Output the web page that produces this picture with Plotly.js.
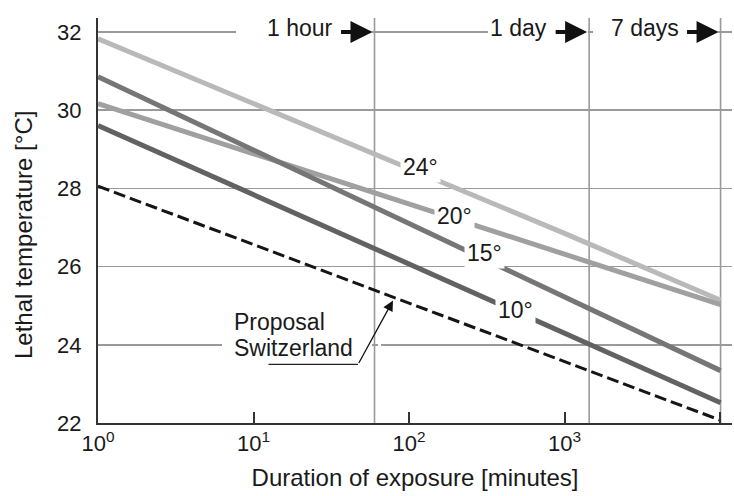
<!DOCTYPE html>
<html>
<head>
<meta charset="utf-8">
<script src="https://cdn.plot.ly/plotly-3.0.1.min.js"></script>
<style>html,body{margin:0;padding:0;background:#fff;}#chart{width:734px;height:496px;}</style>
</head>
<body>
<div id="chart"></div>
<script>
// ---- data ----
const durations = [1, 10, 100, 1000, 10080];           // minutes
const lethal24 = [31.83, 30.17, 28.51, 26.85, 25.14];  // acclimation 24°
const lethal20 = [30.17, 28.89, 27.60, 26.32, 25.03];  // acclimation 20°
const lethal15 = [30.86, 28.99, 27.11, 25.23, 23.34];  // acclimation 15°
const lethal10 = [29.61, 27.84, 26.08, 24.31, 22.52];  // acclimation 10°
const proposalCH = [28.06, 26.56, 25.07, 23.57, 22.07]; // Proposal Switzerland
const markerTimes = [60, 1440, 10080];
const markerLabels = ['1 hour', '1 day', '7 days'];
const xTickVals = [1, 10, 100, 1000, 10000];
const xTickText = ['10<sup>0</sup>', '10<sup>1</sup>', '10<sup>2</sup>', '10<sup>3</sup>', '10<sup>4</sup>'];
const yTickVals = [22, 24, 26, 28, 30, 32];
const seriesLabels = ['24°', '20°', '15°', '10°'];

// ---- layout geometry helpers ----
const W = 734, H = 496, ML = 98, MR = 2, MT = 18, MB = 73;
const XR = [0, 4.077], YR = [22, 32.36];
const PW = W - ML - MR, PH = H - MT - MB;
const pxToLog = px => XR[0] + (px - ML) / PW * (XR[1] - XR[0]);
const pxToPaper = px => (px - ML) / PW;
const pyToY = py => YR[1] - (py - MT) / PH * (YR[1] - YR[0]);

const FONT = '"Liberation Sans", Arial, Helvetica, sans-serif';
const gridC = '#9a9a9a';

const traces = [];
// vertical reference lines (1 hour, 1 day, 7 days)
markerTimes.forEach(t => traces.push({
  x: [t, t], y: [YR[0], YR[1]], mode: 'lines', hoverinfo: 'skip',
  line: {color: gridC, width: 1.6}, showlegend: false
}));
const series = [
  {y: lethal24, c: '#b9b9b9'},
  {y: lethal20, c: '#a0a0a0'},
  {y: lethal15, c: '#767676'},
  {y: lethal10, c: '#626262'}
];
series.forEach(s => traces.push({
  x: durations, y: s.y, mode: 'lines', line: {color: s.c, width: 5}, showlegend: false
}));
traces.push({
  x: durations, y: proposalCH, mode: 'lines',
  line: {color: '#151515', width: 3, dash: '12px,5px'}, showlegend: false
});

const annFont = {family: FONT, size: 23, color: '#1a1a1a'};
const titleFont = {family: FONT, size: 24, color: '#1a1a1a'};
const annotations = [];
// series labels (white box makes the gap in the line)
const labelPos = [[420, 166.7], [454.5, 216], [484, 252.5], [515, 310]];
seriesLabels.forEach((txt, i) => annotations.push({
  xref: 'x', yref: 'y', x: pxToLog(labelPos[i][0]), y: pyToY(labelPos[i][1]),
  text: txt, showarrow: false, font: annFont, bgcolor: '#ffffff', borderpad: 2,
  xanchor: 'center', yanchor: 'middle'
}));
// top time labels with arrows
markerTimes.forEach((t, i) => {
  annotations.push({
    xref: 'x', yref: 'y', x: Math.log10(t), y: 32, xanchor: 'right', yanchor: 'middle',
    xshift: -40, yshift: 4, text: markerLabels[i], showarrow: false, font: annFont
  });
  annotations.push({
    xref: 'x', yref: 'y', x: Math.log10(t), y: 32, text: '', showarrow: true,
    ax: -35, ay: 0, arrowhead: 2, arrowsize: 1.1, arrowwidth: 4, arrowcolor: '#111', standoff: 2
  });
});
// Proposal Switzerland label and leader
annotations.push({
  xref: 'paper', yref: 'y', x: pxToPaper(232), y: pyToY(322), xanchor: 'left', yanchor: 'middle',
  text: 'Proposal', showarrow: false, font: annFont
});
annotations.push({
  xref: 'paper', yref: 'y', x: pxToPaper(232), y: pyToY(348), xanchor: 'left', yanchor: 'middle',
  text: 'Switzerland', showarrow: false, font: annFont
});
annotations.push({
  xref: 'paper', yref: 'y', x: pxToPaper(358), y: pyToY(364.3), text: '', showarrow: true,
  ax: -91, ay: 0, arrowhead: 0, arrowwidth: 1.3, arrowcolor: '#222'
});
annotations.push({
  xref: 'paper', yref: 'y', x: pxToPaper(393), y: pyToY(300.5), text: '', showarrow: true,
  ax: -35, ay: 64, arrowhead: 2, arrowsize: 1.6, arrowwidth: 1.3, arrowcolor: '#111', standoff: 0
});
// y axis title
annotations.push({
  xref: 'paper', yref: 'paper', x: pxToPaper(23), y: (H - MB - 235) / PH,
  text: 'Lethal temperature [°C]', textangle: -90, showarrow: false, font: titleFont,
  xanchor: 'center', yanchor: 'middle'
});

// white masks that break the grid lines behind the text labels
const mask = (x0, x1, y0, y1) => ({
  type: 'rect', xref: 'paper', yref: 'y', x0: pxToPaper(x0), x1: pxToPaper(x1),
  y0: y0, y1: y1, fillcolor: '#ffffff', line: {width: 0}, layer: 'above'
});
const shapes = [
  mask(236, 372, 31.9, 32.1),
  mask(488, 588, 31.9, 32.1),
  mask(593, 718, 31.9, 32.1),
  mask(222, 372, 23.9, 24.1),
  mask(378, 381, 23.9, 24.1)
];

const layout = {
  width: W, height: H,
  margin: {l: ML, r: MR, t: MT, b: MB, pad: 0},
  paper_bgcolor: '#ffffff', plot_bgcolor: '#ffffff',
  font: {family: FONT, size: 22, color: '#1a1a1a'},
  showlegend: false,
  xaxis: {
    type: 'log', range: XR, tickvals: xTickVals, ticktext: xTickText,
    ticks: 'inside', ticklen: 11, tickwidth: 2, tickcolor: '#333',
    showline: true, linecolor: '#333', linewidth: 2, showgrid: false, zeroline: false,
    tickfont: {family: FONT, size: 22, color: '#1a1a1a'},
    title: {text: 'Duration of exposure [minutes]', font: titleFont, standoff: 14}
  },
  yaxis: {
    range: YR, tickvals: yTickVals, ticks: '', ticklabelstandoff: 10,
    showline: true, linecolor: '#333', linewidth: 2,
    showgrid: true, gridcolor: gridC, gridwidth: 1.6, zeroline: false,
    tickfont: {family: FONT, size: 22, color: '#1a1a1a'}
  },
  annotations: annotations,
  shapes: shapes
};

Plotly.newPlot('chart', traces, layout, {staticPlot: true, displayModeBar: false});
</script>
</body>
</html>
